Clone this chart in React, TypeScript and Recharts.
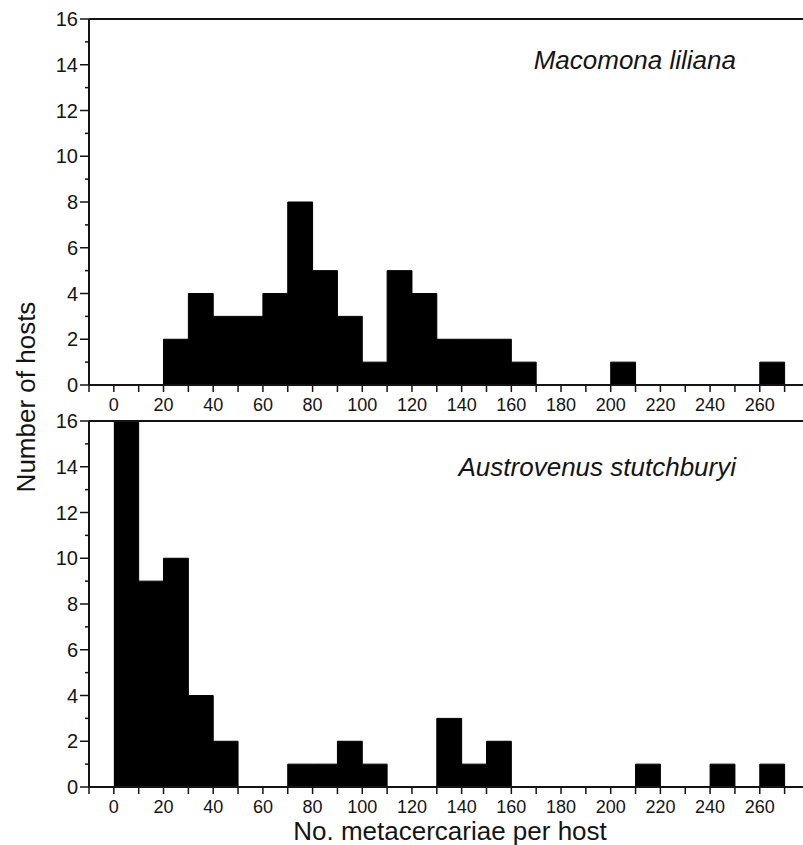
import { ComposedChart, Area, XAxis, YAxis, ReferenceLine } from 'recharts'

const binStarts = [0, 10, 20, 30, 40, 50, 60, 70, 80, 90, 100, 110, 120, 130, 140, 150, 160, 170, 180, 190, 200, 210, 220, 230, 240, 250, 260]
const macomonaCounts = [0, 0, 2, 4, 3, 3, 4, 8, 5, 3, 1, 5, 4, 2, 2, 2, 1, 0, 0, 0, 1, 0, 0, 0, 0, 0, 1]
const austrovenusCounts = [16, 9, 10, 4, 2, 0, 0, 1, 1, 2, 1, 0, 0, 3, 1, 2, 0, 0, 0, 0, 0, 1, 0, 0, 1, 0, 1]
const xTicks = [-10, 0, 10, 20, 30, 40, 50, 60, 70, 80, 90, 100, 110, 120, 130, 140, 150, 160, 170, 180, 190, 200, 210, 220, 230, 240, 250, 260, 270]
const yTicks = [0, 1, 2, 3, 4, 5, 6, 7, 8, 9, 10, 11, 12, 13, 14, 15, 16]
const BIN_WIDTH = 10

const INK = '#141414'
const FONT = '"Liberation Sans", Arial, Helvetica, sans-serif'

// step data: one point per bin start, plus a closing point at the last bin's end
function toSteps(counts: number[]) {
  const rows = binStarts.map((x, i) => ({ x, count: counts[i] }))
  rows.push({ x: binStarts[binStarts.length - 1] + BIN_WIDTH, count: 0 })
  return rows
}

function YTick(props: any) {
  const { x, y, payload } = props
  const v = payload.value as number
  const major = v % 2 === 0
  return (
    <g>
      <line x1={x - (major ? 9 : 4)} x2={x} y1={y} y2={y} stroke={INK} strokeWidth={1.5} />
      {major && (
        <text x={x - 11} y={y} dy="0.36em" textAnchor="end" fontSize={20} fill={INK}>
          {v}
        </text>
      )}
    </g>
  )
}

function XTick(props: any) {
  const { x, y, payload } = props
  const v = payload.value as number
  const labelled = v >= 0 && v % 20 === 0
  return (
    <g>
      <line x1={x} x2={x} y1={y} y2={y + 7} stroke={INK} strokeWidth={1.5} />
      {labelled && (
        <text x={x} y={y + 26} textAnchor="middle" fontSize={18} fill={INK}>
          {v}
        </text>
      )}
    </g>
  )
}

function Panel({ counts, height, top, xAxisHeight }: { counts: number[]; height: number; top: number; xAxisHeight: number }) {
  return (
    <ComposedChart
      width={803}
      height={height}
      data={toSteps(counts)}
      margin={{ top, right: 0, left: 0, bottom: 0 }}
    >
      <XAxis
        dataKey="x"
        type="number"
        domain={[-10, 277.4]}
        ticks={xTicks}
        interval={0}
        allowDataOverflow
        height={xAxisHeight}
        tickSize={0}
        tickMargin={0}
        tick={<XTick />}
        axisLine={{ stroke: INK, strokeWidth: 2 }}
        tickLine={false}
      />
      <YAxis
        type="number"
        domain={[0, 16]}
        ticks={yTicks}
        interval={0}
        allowDataOverflow
        width={89}
        tickSize={0}
        tickMargin={0}
        tick={<YTick />}
        axisLine={{ stroke: INK, strokeWidth: 2 }}
        tickLine={false}
      />
      <Area
        type="stepAfter"
        dataKey="count"
        stroke="#000"
        strokeWidth={1}
        fill="#000"
        fillOpacity={1}
        dot={false}
        activeDot={false}
        isAnimationActive={false}
      />
      <ReferenceLine y={16} stroke={INK} strokeWidth={2} />
    </ComposedChart>
  )
}

export default function App() {
  return (
    <div style={{ position: 'relative', width: 803, height: 845, background: '#fff', fontFamily: FONT }}>
      <style>{'body{margin:0}'}</style>

      <div style={{ position: 'absolute', left: 0, top: 0 }}>
        <Panel counts={macomonaCounts} height={421} top={19} xAxisHeight={36} />
      </div>
      <div style={{ position: 'absolute', left: 0, top: 400 }}>
        <Panel counts={austrovenusCounts} height={445} top={21} xAxisHeight={58} />
      </div>

      {/* titles and species names */}
      <svg width={803} height={845} style={{ position: 'absolute', left: 0, top: 0, pointerEvents: 'none' }}>
        <text x={736} y={69} textAnchor="end" fontSize={26} fontStyle="italic" fill={INK}>
          Macomona liliana
        </text>
        <text x={736} y={476} textAnchor="end" fontSize={26} fontStyle="italic" fill={INK}>
          Austrovenus stutchburyi
        </text>
        <text x={450} y={840} textAnchor="middle" fontSize={26} fill={INK}>
          No. metacercariae per host
        </text>
        <text x={35} y={397} textAnchor="middle" fontSize={26} fill={INK} transform="rotate(-90 35 397)">
          Number of hosts
        </text>
      </svg>
    </div>
  )
}
